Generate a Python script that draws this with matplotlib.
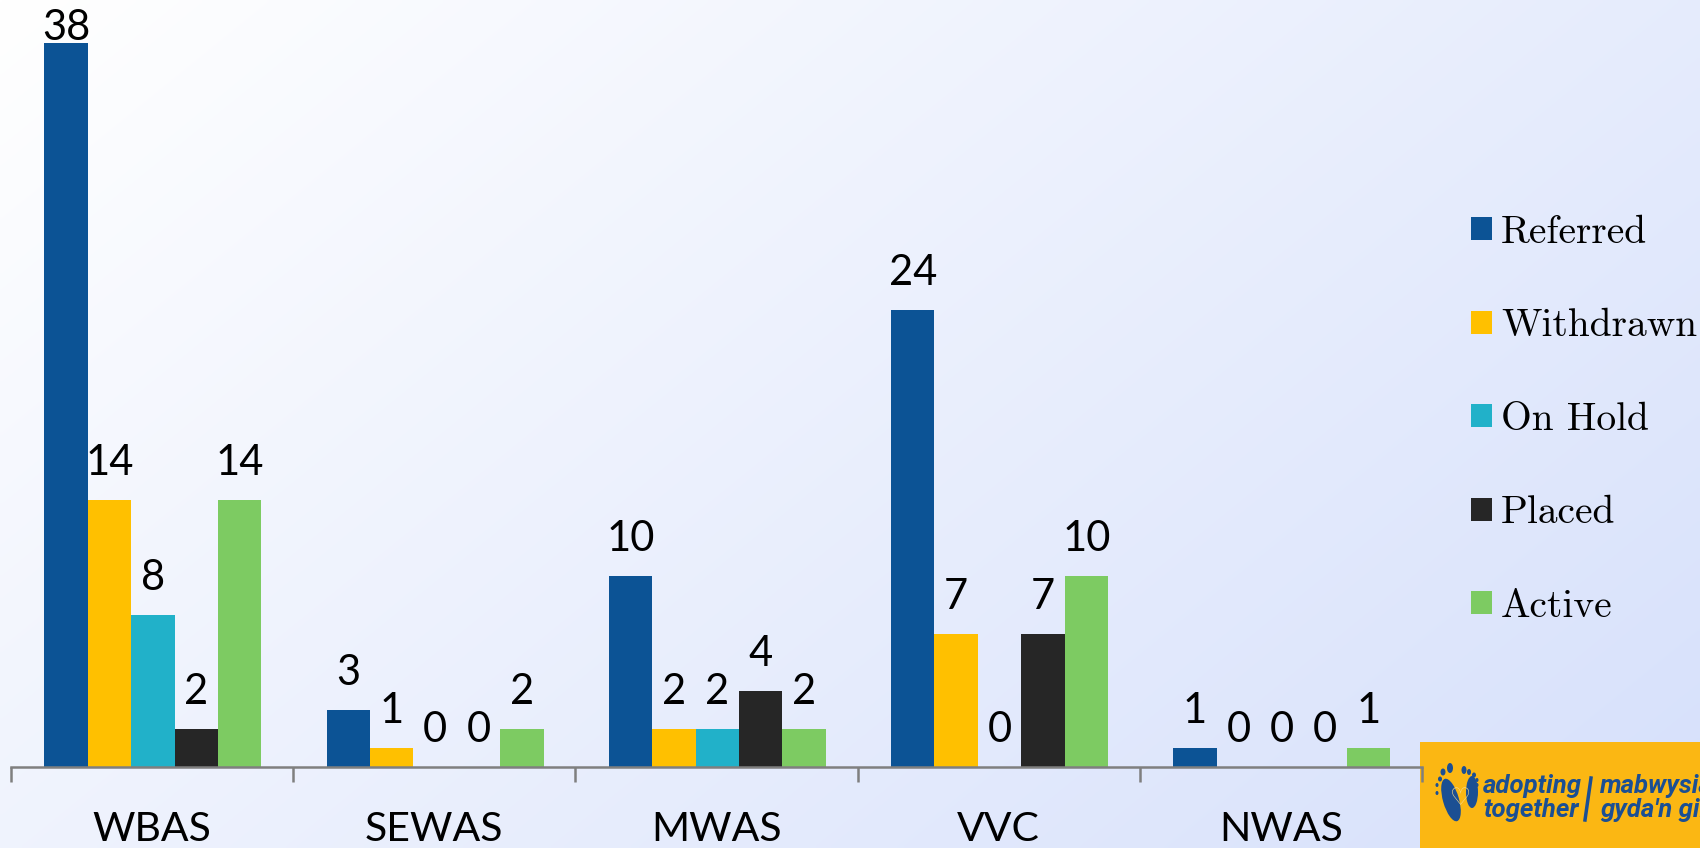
import numpy as np
import matplotlib
matplotlib.use('Agg')
import matplotlib.pyplot as plt
from matplotlib.patches import Ellipse, Rectangle

# Data
categories = ['WBAS', 'SEWAS', 'MWAS', 'VVC', 'NWAS']
referred = [38, 3, 10, 24, 1]
withdrawn = [14, 1, 2, 7, 0]
on_hold = [8, 0, 2, 0, 0]
placed = [2, 0, 4, 7, 0]
active = [14, 2, 2, 10, 1]

series_names = ['Referred', 'Withdrawn', 'On Hold', 'Placed', 'Active']
series_colors = ['#0C5395', '#FFC000', '#21B1C9', '#262626', '#7DCB62']

W, H = 1700, 848
fig = plt.figure(figsize=(W / 100, H / 100), dpi=100)

# Background + logo, in pixel coordinates
bg = fig.add_axes([0, 0, 1, 1], zorder=0)
bg.axis('off')
yy, xx = np.mgrid[0:1:200j, 0:1:400j]
t = 0.62 * xx + 0.38 * yy
start = np.array([255, 255, 255]) / 255
end = np.array([214, 224, 251]) / 255
img = start + (end - start) * t[..., None]
bg.imshow(img, extent=[0, W, H, 0], aspect='auto', interpolation='bilinear')
bg.set_xlim(0, W)
bg.set_ylim(H, 0)

bg.add_patch(Rectangle((1420, 742), 280, 106, color='#FBB713', lw=0))
logo_blue = '#1B4F93'
# footprints: soles then toes
for (x, y, w, h, a) in [(1451, 800, 16, 44, -16), (1472, 792, 12, 32, 0),
                        (1450, 768, 6, 10, 0), (1443, 772, 5, 7, 0), (1440, 779, 4, 5, 0),
                        (1437, 785, 3, 4, 0), (1437, 793, 3, 4, 0),
                        (1464, 770, 5, 8, 0), (1469, 772, 4, 6, 0), (1474, 775, 4, 5, 0),
                        (1477, 780, 3, 4, 0), (1477, 785, 3, 4, 0)]:
    bg.add_patch(Ellipse((x, y), w, h, angle=a, color=logo_blue, lw=0))
bg.text(1460, 798, '\u2661', family='DejaVu Sans', fontsize=17, color='#F6D98A',
        ha='center', va='center')
logo_font = dict(family='Roboto', fontweight='bold', fontstyle='italic', color=logo_blue,
                 fontsize=18.5, linespacing=0.98, va='center', ha='left')
bg.text(1483, 798, 'adopting\ntogether', **logo_font)
bg.text(1600, 798, "mabwysiadu\ngyda'n gilydd", clip_on=True, **logo_font)
bg.plot([1591, 1585], [778, 820], color=logo_blue, lw=2.5)

# Chart
ax = fig.add_axes([11 / W, 1 - 767 / H, 1411 / W, 724 / H], zorder=1)
ax.patch.set_alpha(0)
series = [referred, withdrawn, on_hold, placed, active]
x = np.arange(len(categories))
bw = 43.4 / 282.2

for i, (name, vals, c) in enumerate(zip(series_names, series, series_colors)):
    bars = ax.bar(x + 0.003 + (i - 2) * bw, vals, bw, color=c, label=name, lw=0)
    for b, v in zip(bars, vals):
        pad = -3 if v == 38 else 13
        ax.annotate(str(v), (b.get_x() + b.get_width() / 2, v), xytext=(0, pad),
                    textcoords='offset points', ha='center', va='bottom',
                    fontsize=30, family='Lato', color='black', annotation_clip=False)

ax.set_xlim(-0.5, len(categories) - 0.5)
ax.set_ylim(0, 38)
for s in ['top', 'left', 'right']:
    ax.spines[s].set_visible(False)
ax.spines['bottom'].set_color('#7F7F7F')
ax.spines['bottom'].set_linewidth(1.8)
ax.set_yticks([])
ax.set_xticks(np.arange(len(categories) + 1) - 0.5)
ax.set_xticklabels([])
ax.tick_params(axis='x', which='major', length=11, width=1.8, color='#7F7F7F')
ax.set_xticks(x, minor=True)
ax.set_xticklabels(categories, minor=True, fontsize=29.5, family='Lato')
ax.tick_params(axis='x', which='minor', length=0, pad=32)

fig.legend(loc='upper left', bbox_to_anchor=(1471 / W, 1 - 215 / H), frameon=False,
           prop={'family': 'cmr10', 'size': 28.4}, handlelength=0.53, handleheight=0.53,
           handletextpad=0.23, labelspacing=1.46, borderpad=0, borderaxespad=0)

fig.savefig('out.png', dpi=100)
